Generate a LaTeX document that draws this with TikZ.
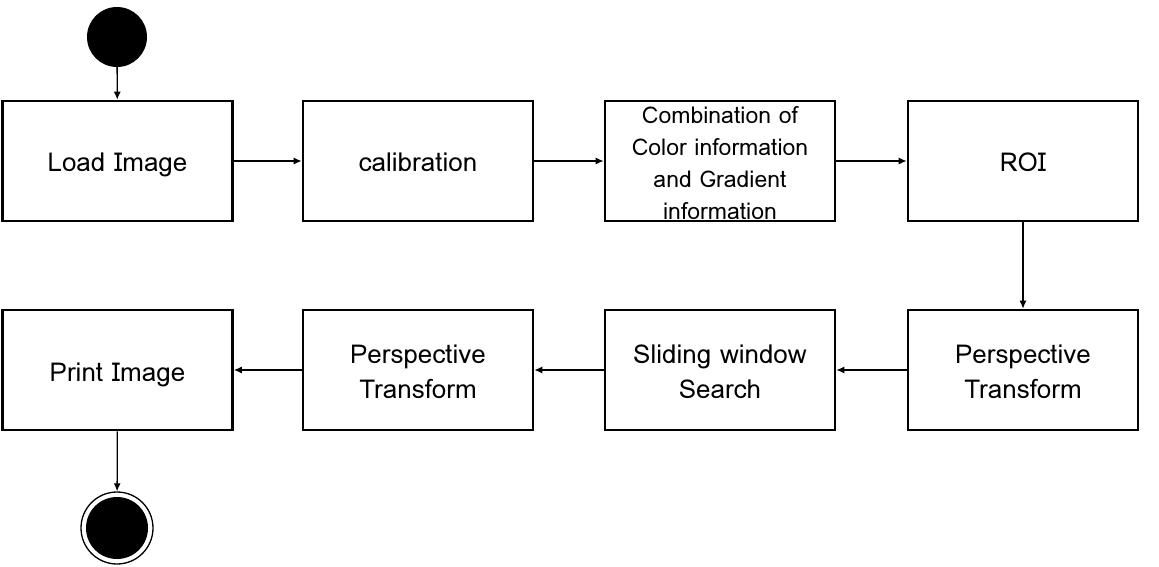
\documentclass[tikz,border=0pt]{standalone}
\usepackage{fontspec}
\setmainfont{Loma}
\usetikzlibrary{arrows.meta}
\newcommand{\boxtxt}[1]{\raisebox{-4pt}[\height][\depth]{\begin{tabular}{@{}c@{}}#1\end{tabular}}}
\begin{document}
\begin{tikzpicture}[x=1pt,y=-1pt,
  box/.style={draw,line width=2.6pt,minimum width=230pt,minimum height=120pt,align=center,font=\fontsize{26}{35}\selectfont,inner sep=0pt},
  flow/.style={-{Latex[length=8pt,width=7pt]},line width=1.3pt},
  start/.style={circle,fill=black,minimum size=60pt,inner sep=0pt},
]
\useasboundingbox (0,0) rectangle (1159,567);
\node[start] (s) at (117,37) {};
\node[box] (load) at (117.5,161) {\boxtxt{Load Image}};
\node[box] (cal) at (418,161) {\boxtxt{calibration}};
\node[box,font=\fontsize{23}{32}\selectfont,inner ysep=-8pt] (comb) at (720,161) {\boxtxt{Combination of\\Color information\\and Gradient\\information}};
\node[box] (roi) at (1023,161) {\boxtxt{ROI}};
\node[box] (pt1) at (1023,370) {\boxtxt{Perspective\\Transform}};
\node[box] (slide) at (720,370) {\boxtxt{Sliding window\\Search}};
\node[box] (pt2) at (418,370) {\boxtxt{Perspective\\Transform}};
\node[box] (print) at (117.5,370) {\boxtxt{Print Image}};
\node[circle,draw,line width=1.3pt,minimum size=72pt,inner sep=0pt] (e) at (117,528) {};
\node[start,minimum size=62pt] (ein) at (e.center) {};
\draw[flow] (s) -- (load);
\draw[flow] (load) -- (cal);
\draw[flow] (cal) -- (comb);
\draw[flow] (comb) -- (roi);
\draw[flow] (roi) -- (pt1);
\draw[flow] (pt1) -- (slide);
\draw[flow] (slide) -- (pt2);
\draw[flow] (pt2) -- (print);
\draw[flow] (print) -- (e);
\end{tikzpicture}
\end{document}
